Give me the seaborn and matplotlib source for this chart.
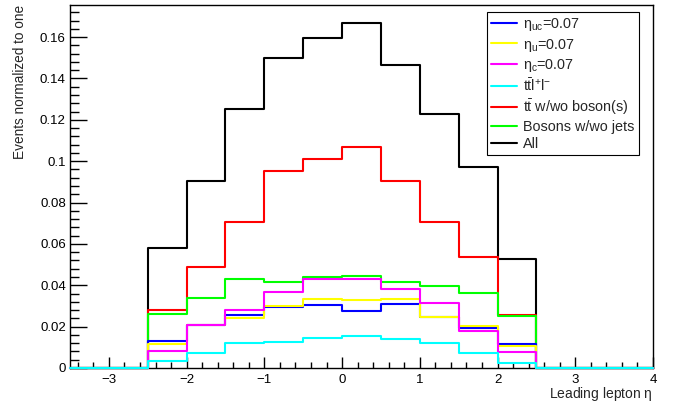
import numpy as np
import pandas as pd
import matplotlib
matplotlib.use("Agg")
import matplotlib.pyplot as plt
from matplotlib.lines import Line2D
from matplotlib.ticker import MultipleLocator, FuncFormatter
import seaborn as sns

# 15 bins of width 0.5 from -3.5 to 4
bin_edges = np.arange(-3.5, 4.01, 0.5)

all_events = [0, 0, 0.0578, 0.0903, 0.125, 0.150, 0.1597, 0.167, 0.1463, 0.1227, 0.097, 0.0527, 0, 0, 0]
ttbar = [0, 0, 0.028, 0.0488, 0.0705, 0.0954, 0.101, 0.107, 0.0903, 0.0708, 0.0536, 0.0255, 0, 0, 0]
bosons = [0, 0, 0.026, 0.0337, 0.043, 0.0416, 0.044, 0.0445, 0.0416, 0.0395, 0.0363, 0.025, 0, 0, 0]
eta_uc = [0, 0, 0.0132, 0.021, 0.0257, 0.0296, 0.0304, 0.0276, 0.0308, 0.0247, 0.0194, 0.0114, 0, 0, 0]
eta_u = [0, 0, 0.0116, 0.021, 0.0243, 0.0299, 0.0334, 0.0330, 0.0336, 0.0247, 0.0202, 0.0108, 0, 0, 0]
eta_c = [0, 0, 0.0083, 0.0207, 0.028, 0.0366, 0.043, 0.0428, 0.038, 0.0315, 0.018, 0.0079, 0, 0, 0]
ttll = [0, 0, 0.0035, 0.0074, 0.0119, 0.0127, 0.0145, 0.0156, 0.014, 0.0119, 0.0071, 0.0023, 0, 0, 0]

labels = [r"$\mathrm{\eta_{uc}}$=0.07", r"$\mathrm{\eta_{u}}$=0.07", r"$\mathrm{\eta_{c}}$=0.07",
          r"$\mathrm{t\bar{t}l^{+}l^{-}}$", r"$\mathrm{t\bar{t}}$ w/wo boson(s)",
          "Bosons w/wo jets", "All"]
colors = ["#0000ff", "#ffff00", "#ff00ff", "#00ffff", "#ff0000", "#00ff00", "#000000"]
series = [eta_uc, eta_u, eta_c, ttll, ttbar, bosons, all_events]

sns.set_style("ticks")
plt.rcParams["font.family"] = ["Liberation Sans", "DejaVu Sans"]
plt.rcParams["mathtext.fontset"] = "custom"
plt.rcParams["mathtext.rm"] = "Liberation Sans"
plt.rcParams["mathtext.it"] = "Liberation Sans:italic"

fig = plt.figure(figsize=(6.99, 4.04), dpi=100)
ax = fig.add_axes([70 / 699, 1 - 368 / 404, 583 / 699, 363 / 404])

# draw "All" first so the smaller samples sit on top, like the original
for k, i in enumerate([6, 4, 5, 0, 1, 2, 3]):
    # step outline: repeat last bin content at the closing edge
    df = pd.DataFrame({"edge": bin_edges, "h": list(series[i]) + [series[i][-1]]})
    sns.lineplot(data=df, x="edge", y="h", drawstyle="steps-post", estimator=None,
                 color=colors[i], linewidth=1.5, clip_on=False, zorder=10 + k, ax=ax)

for s in ax.spines.values():
    s.set_visible(True)
    s.set_color("black")
    s.set_linewidth(1)
    s.set_zorder(1)

ax.set_xlim(-3.5, 4)
ax.set_ylim(0, 0.1755)
ax.xaxis.set_major_locator(MultipleLocator(1))
ax.xaxis.set_minor_locator(MultipleLocator(0.2))
ax.yaxis.set_major_locator(MultipleLocator(0.02))
ax.yaxis.set_minor_locator(MultipleLocator(0.004))
ax.yaxis.set_major_formatter(FuncFormatter(lambda v, p: "0" if abs(v) < 1e-9 else f"{v:.2f}".rstrip("0")))
ax.tick_params(which="both", direction="in", top=False, right=False, labelsize=9.5, colors="black", width=1)
ax.tick_params(axis="x", which="major", length=8, pad=4)
ax.tick_params(axis="x", which="minor", length=4)
ax.tick_params(axis="y", which="major", length=12.5, pad=3)
ax.tick_params(axis="y", which="minor", length=6.3)

ax.set_xlabel(r"Leading lepton $\mathrm{\eta}$", fontsize=10, loc="right", labelpad=-0.5)
ax.set_ylabel("Events normalized to one", fontsize=9.8, loc="top")
ax.yaxis.set_label_coords(-0.073, 1.0)
ax.grid(False)

handles = [Line2D([], [], color=c, lw=1.5) for c in colors]
leg = ax.legend(handles, labels, loc="upper left", bbox_to_anchor=(487 / 699, 1 - 12 / 404),
                bbox_transform=fig.transFigure, fontsize=10.4, frameon=True, fancybox=False,
                edgecolor="black", framealpha=1, handlelength=1.8, handletextpad=0.4,
                labelspacing=0.22, borderpad=0.3, borderaxespad=0)
leg.get_frame().set_linewidth(0.8)
leg.set_zorder(30)

fig.savefig("out.png", dpi=100)
